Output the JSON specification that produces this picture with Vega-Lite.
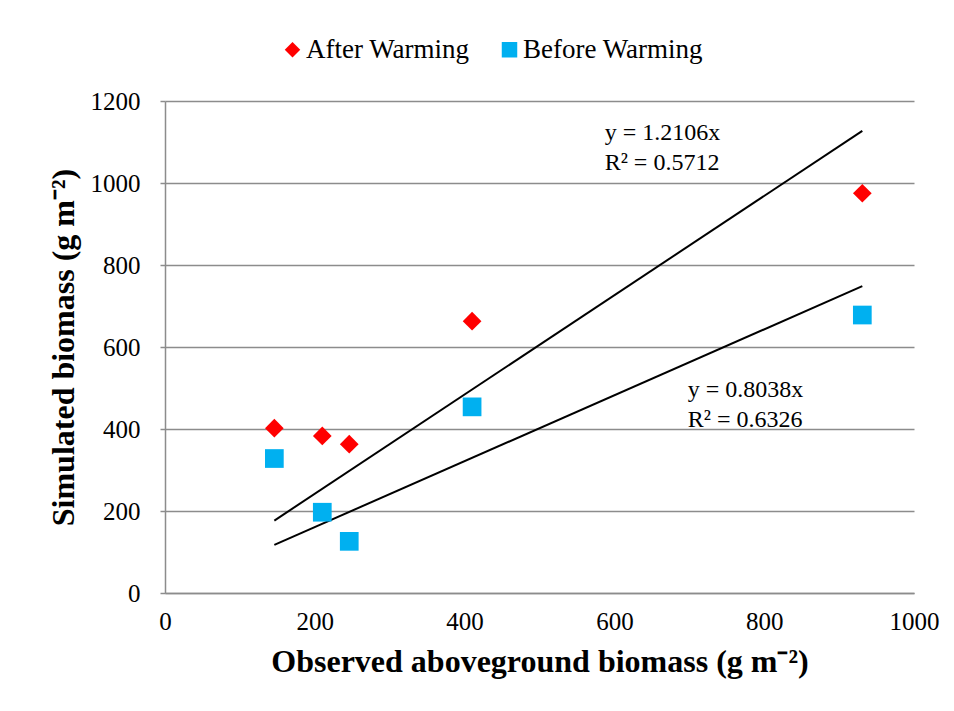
{
  "$schema": "https://vega.github.io/schema/vega-lite/v6.json",
  "width": 749,
  "height": 492,
  "autosize": {"type": "none"},
  "padding": {"left": 165, "top": 101, "right": 40, "bottom": 118},
  "background": "white",
  "config": {
    "view": {"stroke": null},
    "font": "Liberation Serif"
  },
  "datasets": {
    "points": [
      {"series": "After Warming", "observed": 146, "simulated": 402},
      {"series": "After Warming", "observed": 210, "simulated": 383},
      {"series": "After Warming", "observed": 246, "simulated": 363},
      {"series": "After Warming", "observed": 410, "simulated": 663},
      {"series": "After Warming", "observed": 931, "simulated": 975},
      {"series": "Before Warming", "observed": 146, "simulated": 328},
      {"series": "Before Warming", "observed": 210, "simulated": 197},
      {"series": "Before Warming", "observed": 246, "simulated": 126},
      {"series": "Before Warming", "observed": 410, "simulated": 454},
      {"series": "Before Warming", "observed": 931, "simulated": 678}
    ],
    "trend": [
      {"fit": "After Warming", "observed": 146, "simulated": 176.7},
      {"fit": "After Warming", "observed": 931, "simulated": 1127.1},
      {"fit": "Before Warming", "observed": 146, "simulated": 117.4},
      {"fit": "Before Warming", "observed": 931, "simulated": 748.3}
    ],
    "labels": [
      {"text": "y = 1.2106x", "observed": 587, "simulated": 1122},
      {"text": "R² = 0.5712", "observed": 587, "simulated": 1049},
      {"text": "y = 0.8038x", "observed": 698, "simulated": 495},
      {"text": "R² = 0.6326", "observed": 698, "simulated": 422}
    ]
  },
  "layer": [
    {
      "data": {"name": "trend"},
      "mark": {"type": "line", "color": "#000000", "strokeWidth": 2},
      "encoding": {
        "x": {"field": "observed", "type": "quantitative", "scale": {"domain": [0, 1000]},
          "axis": {"values": [0, 200, 400, 600, 800, 1000], "format": "d", "grid": false, "ticks": false, "domain": true, "domainColor": "#8c8c8c", "domainWidth": 1.5, "labelFlush": false, "labelFont": "Liberation Serif", "labelColor": "#000000", "labelFontSize": 25, "labelPadding": 16, "title": "Observed aboveground biomass (g m⁻²)", "titleFont": "Liberation Serif", "titleColor": "#000000", "titleFontSize": 32, "titleFontWeight": "bold", "titlePadding": 12}},
        "y": {"field": "simulated", "type": "quantitative", "scale": {"domain": [0, 1200]},
          "axis": {"values": [0, 200, 400, 600, 800, 1000, 1200], "format": "d", "grid": true, "gridColor": "#8c8c8c", "gridWidth": 1.5, "domain": true, "domainColor": "#8c8c8c", "domainWidth": 1.5, "ticks": true, "tickColor": "#8c8c8c", "tickSize": 5, "tickWidth": 1.5, "labelFlush": false, "labelFont": "Liberation Serif", "labelColor": "#000000", "labelFontSize": 25, "labelPadding": 20, "title": "Simulated biomass (g m⁻²)", "titleFont": "Liberation Serif", "titleColor": "#000000", "titleFontSize": 32, "titleFontWeight": "bold", "titlePadding": 10}},
        "detail": {"field": "fit", "type": "nominal"}
      }
    },
    {
      "data": {"name": "points"},
      "mark": {"type": "point", "filled": true, "opacity": 1, "size": 350},
      "encoding": {
        "x": {"field": "observed", "type": "quantitative"},
        "y": {"field": "simulated", "type": "quantitative"},
        "shape": {"field": "series", "type": "nominal", "scale": {"domain": ["After Warming", "Before Warming"], "range": ["diamond", "square"]}, "legend": {"title": null}},
        "color": {"field": "series", "type": "nominal", "scale": {"domain": ["After Warming", "Before Warming"], "range": ["#FF0000", "#00B0F0"]},
          "legend": {"title": null, "orient": "none", "direction": "horizontal", "legendX": 114, "legendY": -65, "labelFont": "Liberation Serif", "labelColor": "#000000", "labelFontSize": 27, "labelLimit": 0, "symbolSize": 240, "symbolOpacity": 1, "columnPadding": 26, "labelOffset": 0}}
      }
    },
    {
      "data": {"name": "labels"},
      "mark": {"type": "text", "align": "left", "baseline": "middle", "fontSize": 24, "font": "Liberation Serif", "color": "#000000"},
      "encoding": {
        "x": {"field": "observed", "type": "quantitative"},
        "y": {"field": "simulated", "type": "quantitative"},
        "text": {"field": "text", "type": "nominal"}
      }
    }
  ]
}
